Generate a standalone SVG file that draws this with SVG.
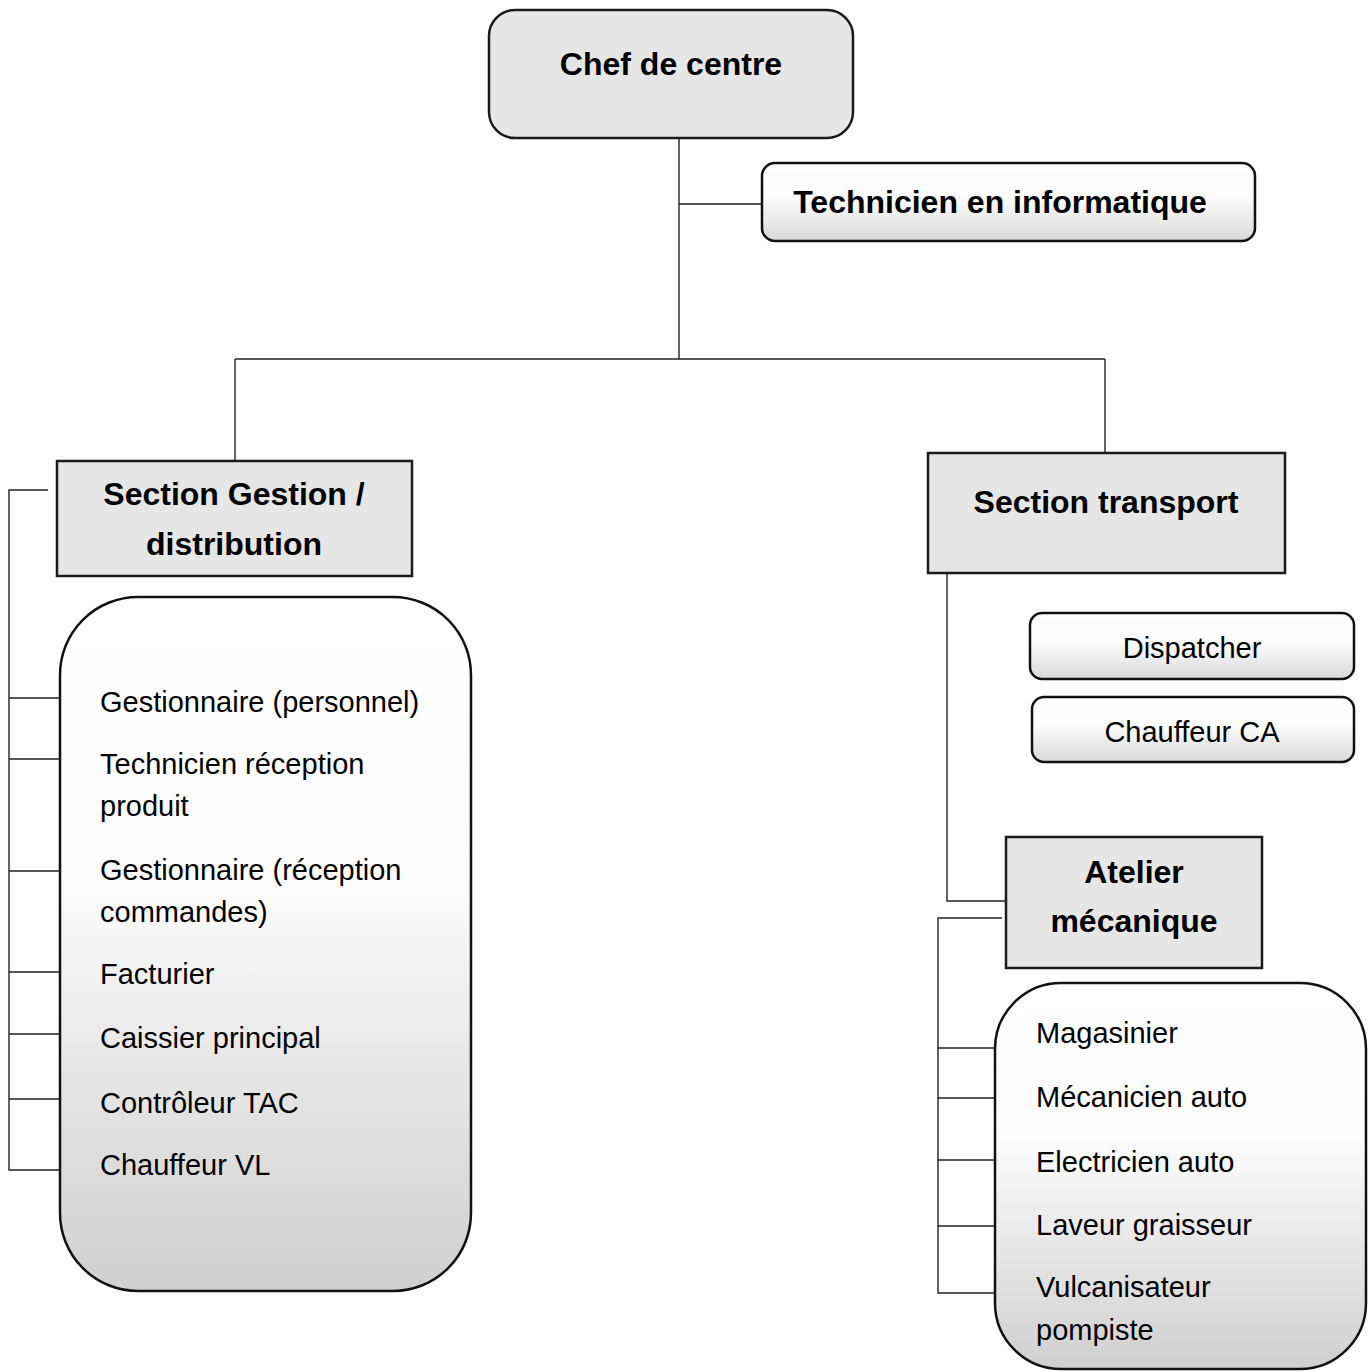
<svg xmlns="http://www.w3.org/2000/svg" width="1371" height="1371" viewBox="0 0 1371 1371">
<defs>
<linearGradient id="gSmall" x1="0" y1="0" x2="0" y2="1">
<stop offset="0" stop-color="#ffffff"/>
<stop offset="0.45" stop-color="#fbfbfb"/>
<stop offset="1" stop-color="#d9d9d9"/>
</linearGradient>
<linearGradient id="gBig" x1="0" y1="0" x2="0" y2="1">
<stop offset="0" stop-color="#ffffff"/>
<stop offset="0.4" stop-color="#fcfcfc"/>
<stop offset="1" stop-color="#cfcfcf"/>
</linearGradient>
<style>
.flat{fill:#e6e6e6;stroke:#1a1a1a;stroke-width:2.5}
.soft{fill:url(#gSmall);stroke:#111;stroke-width:2.5}
.big{fill:url(#gBig);stroke:#111;stroke-width:2.5}
.h{font-family:"Liberation Sans",Arial,sans-serif;font-weight:bold;font-size:32px;fill:#000;text-anchor:middle}
.t{font-family:"Liberation Sans",Arial,sans-serif;font-size:29px;fill:#000}
.tc{text-anchor:middle}
.ln{stroke:#222;stroke-width:1.4;fill:none}
</style>
</defs>
<rect width="1371" height="1371" fill="#ffffff"/>
<g id="connectors">
<path class="ln" d="M679 138V359M679 204H762M235 359H1105M235 359V461M1105 359V453"/>
<path class="ln" d="M48 490H9V1170H60M9 698H60M9 759H60M9 871H60M9 972H60M9 1034H60M9 1099H60"/>
<path class="ln" d="M947 573V901H1006"/>
<path class="ln" d="M1002 918H938V1293H995M938 1048H995M938 1098H995M938 1160H995M938 1226H995"/>
</g>
<g id="chef">
<rect class="flat" x="489" y="10" width="364" height="128" rx="26"/>
<text class="h" x="671" y="75">Chef de centre</text>
</g>
<g id="technicien">
<rect class="soft" x="762" y="163" width="493" height="78" rx="13"/>
<text class="h" x="1000" y="213">Technicien en informatique</text>
</g>
<g id="section-gestion">
<rect class="flat" x="57" y="461" width="355" height="115"/>
<text class="h" x="234" y="505">Section Gestion /</text>
<text class="h" x="234" y="555">distribution</text>
</g>
<g id="gestion-list">
<rect class="big" x="60" y="597" width="411" height="694" rx="78"/>
<text class="t" x="100" y="712">Gestionnaire (personnel)</text>
<text class="t" x="100" y="774">Technicien réception</text>
<text class="t" x="100" y="816">produit</text>
<text class="t" x="100" y="880">Gestionnaire (réception</text>
<text class="t" x="100" y="922">commandes)</text>
<text class="t" x="100" y="984">Facturier</text>
<text class="t" x="100" y="1048">Caissier principal</text>
<text class="t" x="100" y="1113">Contrôleur TAC</text>
<text class="t" x="100" y="1175">Chauffeur VL</text>
</g>
<g id="section-transport">
<rect class="flat" x="928" y="453" width="357" height="120"/>
<text class="h" x="1106" y="513">Section transport</text>
</g>
<g id="dispatcher">
<rect class="soft" x="1030" y="613" width="324" height="66" rx="12"/>
<text class="t tc" x="1192" y="658">Dispatcher</text>
</g>
<g id="chauffeur-ca">
<rect class="soft" x="1032" y="697" width="322" height="65" rx="12"/>
<text class="t tc" x="1192" y="742">Chauffeur CA</text>
</g>
<g id="atelier">
<rect class="flat" x="1006" y="837" width="256" height="131"/>
<text class="h" x="1134" y="883">Atelier</text>
<text class="h" x="1134" y="932">mécanique</text>
</g>
<g id="atelier-list">
<rect class="big" x="995" y="983" width="371" height="386" rx="66"/>
<text class="t" x="1036" y="1043">Magasinier</text>
<text class="t" x="1036" y="1107">Mécanicien auto</text>
<text class="t" x="1036" y="1172">Electricien auto</text>
<text class="t" x="1036" y="1235">Laveur graisseur</text>
<text class="t" x="1036" y="1297">Vulcanisateur</text>
<text class="t" x="1036" y="1340">pompiste</text>
</g>
</svg>
